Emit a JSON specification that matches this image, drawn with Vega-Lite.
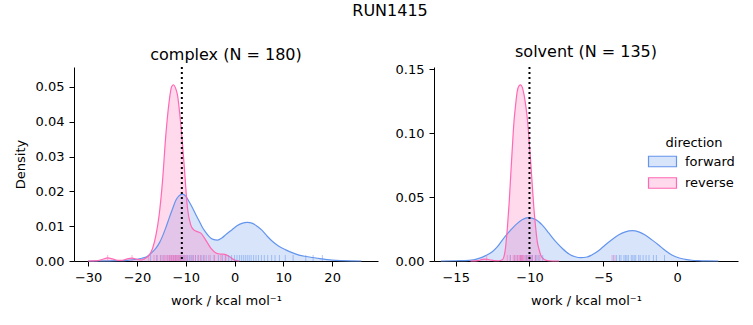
{
  "$schema": "https://vega.github.io/schema/vega-lite/v6.json",
  "autosize": {"type": "pad"},
  "padding": {"left": 14, "top": 3, "right": 5, "bottom": 5},
  "title": {"text": "RUN1415", "fontSize": 16, "fontWeight": "normal", "font": "DejaVu Sans", "anchor": "middle", "dx": 14, "offset": 25, "color": "black"},
  "spacing": 56,
  "bounds": "flush",
  "resolve": {"scale": {"color": "shared"}, "legend": {"color": "shared"}},
  "datasets": {
    "curves": [
      {"panel": "complex", "direction": "forward", "work": -30, "density": 0},
      {"panel": "complex", "direction": "forward", "work": -26, "density": 0.00005},
      {"panel": "complex", "direction": "forward", "work": -24, "density": 0.0001},
      {"panel": "complex", "direction": "forward", "work": -22, "density": 0.0002},
      {"panel": "complex", "direction": "forward", "work": -20, "density": 0.0005},
      {"panel": "complex", "direction": "forward", "work": -19, "density": 0.0008},
      {"panel": "complex", "direction": "forward", "work": -18, "density": 0.0012},
      {"panel": "complex", "direction": "forward", "work": -17.5, "density": 0.0017},
      {"panel": "complex", "direction": "forward", "work": -16.8, "density": 0.0026},
      {"panel": "complex", "direction": "forward", "work": -16.1, "density": 0.0037},
      {"panel": "complex", "direction": "forward", "work": -15.4, "density": 0.0052},
      {"panel": "complex", "direction": "forward", "work": -14.8, "density": 0.007},
      {"panel": "complex", "direction": "forward", "work": -14.1, "density": 0.0095},
      {"panel": "complex", "direction": "forward", "work": -13.4, "density": 0.0123},
      {"panel": "complex", "direction": "forward", "work": -12.7, "density": 0.015},
      {"panel": "complex", "direction": "forward", "work": -12.0, "density": 0.0175},
      {"panel": "complex", "direction": "forward", "work": -11.4, "density": 0.0187},
      {"panel": "complex", "direction": "forward", "work": -10.7, "density": 0.0192},
      {"panel": "complex", "direction": "forward", "work": -10.0, "density": 0.0186},
      {"panel": "complex", "direction": "forward", "work": -9.3, "density": 0.017},
      {"panel": "complex", "direction": "forward", "work": -8.6, "density": 0.0152},
      {"panel": "complex", "direction": "forward", "work": -7.9, "density": 0.0132},
      {"panel": "complex", "direction": "forward", "work": -7.25, "density": 0.0115},
      {"panel": "complex", "direction": "forward", "work": -6.6, "density": 0.0097},
      {"panel": "complex", "direction": "forward", "work": -5.9, "density": 0.0082},
      {"panel": "complex", "direction": "forward", "work": -5.2, "density": 0.007},
      {"panel": "complex", "direction": "forward", "work": -4.4, "density": 0.0062},
      {"panel": "complex", "direction": "forward", "work": -3.5, "density": 0.006},
      {"panel": "complex", "direction": "forward", "work": -2.6, "density": 0.0066},
      {"panel": "complex", "direction": "forward", "work": -1.7, "density": 0.0077},
      {"panel": "complex", "direction": "forward", "work": -0.5, "density": 0.009},
      {"panel": "complex", "direction": "forward", "work": 0.5, "density": 0.0101},
      {"panel": "complex", "direction": "forward", "work": 1.5, "density": 0.0108},
      {"panel": "complex", "direction": "forward", "work": 2.6, "density": 0.0111},
      {"panel": "complex", "direction": "forward", "work": 3.7, "density": 0.0108},
      {"panel": "complex", "direction": "forward", "work": 4.7, "density": 0.0099},
      {"panel": "complex", "direction": "forward", "work": 5.7, "density": 0.0087},
      {"panel": "complex", "direction": "forward", "work": 6.7, "density": 0.0071},
      {"panel": "complex", "direction": "forward", "work": 7.8, "density": 0.0056},
      {"panel": "complex", "direction": "forward", "work": 9.0, "density": 0.0043},
      {"panel": "complex", "direction": "forward", "work": 10.5, "density": 0.0032},
      {"panel": "complex", "direction": "forward", "work": 11.8, "density": 0.0024},
      {"panel": "complex", "direction": "forward", "work": 13.2, "density": 0.0017},
      {"panel": "complex", "direction": "forward", "work": 14.6, "density": 0.0013},
      {"panel": "complex", "direction": "forward", "work": 16.0, "density": 0.001},
      {"panel": "complex", "direction": "forward", "work": 17.5, "density": 0.0007},
      {"panel": "complex", "direction": "forward", "work": 19, "density": 0.0004},
      {"panel": "complex", "direction": "forward", "work": 20, "density": 0.00025},
      {"panel": "complex", "direction": "forward", "work": 22, "density": 0.0001},
      {"panel": "complex", "direction": "forward", "work": 24, "density": 0.00003},
      {"panel": "complex", "direction": "forward", "work": 26, "density": 0},
      {"panel": "complex", "direction": "reverse", "work": -30, "density": 0},
      {"panel": "complex", "direction": "reverse", "work": -28, "density": 0.0001},
      {"panel": "complex", "direction": "reverse", "work": -27, "density": 0.0005},
      {"panel": "complex", "direction": "reverse", "work": -26, "density": 0.0009},
      {"panel": "complex", "direction": "reverse", "work": -25, "density": 0.0006},
      {"panel": "complex", "direction": "reverse", "work": -24, "density": 0.0002},
      {"panel": "complex", "direction": "reverse", "work": -23, "density": 0.0002},
      {"panel": "complex", "direction": "reverse", "work": -22, "density": 0.0006},
      {"panel": "complex", "direction": "reverse", "work": -21, "density": 0.0008},
      {"panel": "complex", "direction": "reverse", "work": -20, "density": 0.0005},
      {"panel": "complex", "direction": "reverse", "work": -19, "density": 0.0003},
      {"panel": "complex", "direction": "reverse", "work": -18.5, "density": 0.0006},
      {"panel": "complex", "direction": "reverse", "work": -18, "density": 0.001},
      {"panel": "complex", "direction": "reverse", "work": -17.5, "density": 0.0017},
      {"panel": "complex", "direction": "reverse", "work": -16.8, "density": 0.0036},
      {"panel": "complex", "direction": "reverse", "work": -16.1, "density": 0.0075},
      {"panel": "complex", "direction": "reverse", "work": -15.45, "density": 0.0132},
      {"panel": "complex", "direction": "reverse", "work": -14.77, "density": 0.0228},
      {"panel": "complex", "direction": "reverse", "work": -14.08, "density": 0.0362},
      {"panel": "complex", "direction": "reverse", "work": -13.4, "density": 0.0458},
      {"panel": "complex", "direction": "reverse", "work": -12.9, "density": 0.05},
      {"panel": "complex", "direction": "reverse", "work": -12.5, "density": 0.0506},
      {"panel": "complex", "direction": "reverse", "work": -12.1, "density": 0.0497},
      {"panel": "complex", "direction": "reverse", "work": -11.7, "density": 0.0477},
      {"panel": "complex", "direction": "reverse", "work": -11.0, "density": 0.039},
      {"panel": "complex", "direction": "reverse", "work": -10.33, "density": 0.0276},
      {"panel": "complex", "direction": "reverse", "work": -9.65, "density": 0.0152},
      {"panel": "complex", "direction": "reverse", "work": -8.96, "density": 0.0103},
      {"panel": "complex", "direction": "reverse", "work": -8.4, "density": 0.009},
      {"panel": "complex", "direction": "reverse", "work": -7.93, "density": 0.0086},
      {"panel": "complex", "direction": "reverse", "work": -6.9, "density": 0.008},
      {"panel": "complex", "direction": "reverse", "work": -5.9, "density": 0.006},
      {"panel": "complex", "direction": "reverse", "work": -4.86, "density": 0.0037},
      {"panel": "complex", "direction": "reverse", "work": -3.8, "density": 0.0023},
      {"panel": "complex", "direction": "reverse", "work": -3.0, "density": 0.002},
      {"panel": "complex", "direction": "reverse", "work": -2.0, "density": 0.0019},
      {"panel": "complex", "direction": "reverse", "work": -1.0, "density": 0.0012},
      {"panel": "complex", "direction": "reverse", "work": 0, "density": 0.0003},
      {"panel": "complex", "direction": "reverse", "work": 1, "density": 0},
      {"panel": "solvent", "direction": "forward", "work": -16, "density": 0},
      {"panel": "solvent", "direction": "forward", "work": -15, "density": 0.0002},
      {"panel": "solvent", "direction": "forward", "work": -14.1, "density": 0.0005},
      {"panel": "solvent", "direction": "forward", "work": -13.42, "density": 0.0021},
      {"panel": "solvent", "direction": "forward", "work": -12.97, "density": 0.0042},
      {"panel": "solvent", "direction": "forward", "work": -12.52, "density": 0.0073},
      {"panel": "solvent", "direction": "forward", "work": -12.2, "density": 0.0108},
      {"panel": "solvent", "direction": "forward", "work": -11.84, "density": 0.0164},
      {"panel": "solvent", "direction": "forward", "work": -11.4, "density": 0.0225},
      {"panel": "solvent", "direction": "forward", "work": -10.94, "density": 0.0282},
      {"panel": "solvent", "direction": "forward", "work": -10.5, "density": 0.0322},
      {"panel": "solvent", "direction": "forward", "work": -10.08, "density": 0.0339},
      {"panel": "solvent", "direction": "forward", "work": -9.6, "density": 0.0325},
      {"panel": "solvent", "direction": "forward", "work": -9.13, "density": 0.028},
      {"panel": "solvent", "direction": "forward", "work": -8.67, "density": 0.0215},
      {"panel": "solvent", "direction": "forward", "work": -8.22, "density": 0.0151},
      {"panel": "solvent", "direction": "forward", "work": -7.77, "density": 0.0098},
      {"panel": "solvent", "direction": "forward", "work": -7.32, "density": 0.0055},
      {"panel": "solvent", "direction": "forward", "work": -6.9, "density": 0.0033},
      {"panel": "solvent", "direction": "forward", "work": -6.53, "density": 0.0026},
      {"panel": "solvent", "direction": "forward", "work": -6.1, "density": 0.0031},
      {"panel": "solvent", "direction": "forward", "work": -5.78, "density": 0.0047},
      {"panel": "solvent", "direction": "forward", "work": -5.3, "density": 0.0082},
      {"panel": "solvent", "direction": "forward", "work": -4.87, "density": 0.0125},
      {"panel": "solvent", "direction": "forward", "work": -4.4, "density": 0.0168},
      {"panel": "solvent", "direction": "forward", "work": -3.97, "density": 0.0203},
      {"panel": "solvent", "direction": "forward", "work": -3.5, "density": 0.0228},
      {"panel": "solvent", "direction": "forward", "work": -3.02, "density": 0.0237},
      {"panel": "solvent", "direction": "forward", "work": -2.6, "density": 0.0228},
      {"panel": "solvent", "direction": "forward", "work": -2.16, "density": 0.0203},
      {"panel": "solvent", "direction": "forward", "work": -1.7, "density": 0.0165},
      {"panel": "solvent", "direction": "forward", "work": -1.25, "density": 0.0125},
      {"panel": "solvent", "direction": "forward", "work": -0.8, "density": 0.0082},
      {"panel": "solvent", "direction": "forward", "work": -0.35, "density": 0.0047},
      {"panel": "solvent", "direction": "forward", "work": 0.1, "density": 0.0025},
      {"panel": "solvent", "direction": "forward", "work": 0.56, "density": 0.0013},
      {"panel": "solvent", "direction": "forward", "work": 1.0, "density": 0.0006},
      {"panel": "solvent", "direction": "forward", "work": 1.46, "density": 0.0003},
      {"panel": "solvent", "direction": "forward", "work": 2.0, "density": 0.0001},
      {"panel": "solvent", "direction": "forward", "work": 2.8, "density": 0},
      {"panel": "solvent", "direction": "reverse", "work": -14, "density": 0},
      {"panel": "solvent", "direction": "reverse", "work": -13.5, "density": 0.0003},
      {"panel": "solvent", "direction": "reverse", "work": -13.2, "density": 0.0012},
      {"panel": "solvent", "direction": "reverse", "work": -12.97, "density": 0.0015},
      {"panel": "solvent", "direction": "reverse", "work": -12.7, "density": 0.001},
      {"panel": "solvent", "direction": "reverse", "work": -12.4, "density": 0.0003},
      {"panel": "solvent", "direction": "reverse", "work": -12.1, "density": 0.0002},
      {"panel": "solvent", "direction": "reverse", "work": -11.84, "density": 0.001},
      {"panel": "solvent", "direction": "reverse", "work": -11.66, "density": 0.0073},
      {"panel": "solvent", "direction": "reverse", "work": -11.5, "density": 0.0256},
      {"panel": "solvent", "direction": "reverse", "work": -11.38, "density": 0.045},
      {"panel": "solvent", "direction": "reverse", "work": -11.27, "density": 0.0673},
      {"panel": "solvent", "direction": "reverse", "work": -11.16, "density": 0.089},
      {"panel": "solvent", "direction": "reverse", "work": -11.05, "density": 0.109},
      {"panel": "solvent", "direction": "reverse", "work": -10.94, "density": 0.122},
      {"panel": "solvent", "direction": "reverse", "work": -10.83, "density": 0.1325},
      {"panel": "solvent", "direction": "reverse", "work": -10.7, "density": 0.137},
      {"panel": "solvent", "direction": "reverse", "work": -10.6, "density": 0.1377},
      {"panel": "solvent", "direction": "reverse", "work": -10.48, "density": 0.1355},
      {"panel": "solvent", "direction": "reverse", "work": -10.37, "density": 0.13},
      {"panel": "solvent", "direction": "reverse", "work": -10.26, "density": 0.122},
      {"panel": "solvent", "direction": "reverse", "work": -10.15, "density": 0.1117},
      {"panel": "solvent", "direction": "reverse", "work": -10.03, "density": 0.095},
      {"panel": "solvent", "direction": "reverse", "work": -9.92, "density": 0.0777},
      {"panel": "solvent", "direction": "reverse", "work": -9.81, "density": 0.059},
      {"panel": "solvent", "direction": "reverse", "work": -9.7, "density": 0.041},
      {"panel": "solvent", "direction": "reverse", "work": -9.58, "density": 0.026},
      {"panel": "solvent", "direction": "reverse", "work": -9.47, "density": 0.015},
      {"panel": "solvent", "direction": "reverse", "work": -9.35, "density": 0.009},
      {"panel": "solvent", "direction": "reverse", "work": -9.24, "density": 0.0047},
      {"panel": "solvent", "direction": "reverse", "work": -9.0, "density": 0.0012},
      {"panel": "solvent", "direction": "reverse", "work": -8.7, "density": 0.0002},
      {"panel": "solvent", "direction": "reverse", "work": -8.0, "density": 0}
    ],
    "rugs": [
      {"panel": "complex", "direction": "forward", "work": -17.2},
      {"panel": "complex", "direction": "forward", "work": -16.0},
      {"panel": "complex", "direction": "forward", "work": -15.1},
      {"panel": "complex", "direction": "forward", "work": -14.5},
      {"panel": "complex", "direction": "forward", "work": -13.8},
      {"panel": "complex", "direction": "forward", "work": -13.3},
      {"panel": "complex", "direction": "forward", "work": -12.9},
      {"panel": "complex", "direction": "forward", "work": -12.5},
      {"panel": "complex", "direction": "forward", "work": -12.1},
      {"panel": "complex", "direction": "forward", "work": -11.8},
      {"panel": "complex", "direction": "forward", "work": -11.4},
      {"panel": "complex", "direction": "forward", "work": -11.1},
      {"panel": "complex", "direction": "forward", "work": -10.8},
      {"panel": "complex", "direction": "forward", "work": -10.5},
      {"panel": "complex", "direction": "forward", "work": -10.2},
      {"panel": "complex", "direction": "forward", "work": -9.9},
      {"panel": "complex", "direction": "forward", "work": -9.6},
      {"panel": "complex", "direction": "forward", "work": -9.2},
      {"panel": "complex", "direction": "forward", "work": -8.8},
      {"panel": "complex", "direction": "forward", "work": -8.4},
      {"panel": "complex", "direction": "forward", "work": -8.0},
      {"panel": "complex", "direction": "forward", "work": -7.5},
      {"panel": "complex", "direction": "forward", "work": -7.0},
      {"panel": "complex", "direction": "forward", "work": -6.4},
      {"panel": "complex", "direction": "forward", "work": -5.8},
      {"panel": "complex", "direction": "forward", "work": -5.0},
      {"panel": "complex", "direction": "forward", "work": -4.2},
      {"panel": "complex", "direction": "forward", "work": -3.3},
      {"panel": "complex", "direction": "forward", "work": -2.5},
      {"panel": "complex", "direction": "forward", "work": -1.8},
      {"panel": "complex", "direction": "forward", "work": -1.2},
      {"panel": "complex", "direction": "forward", "work": -0.6},
      {"panel": "complex", "direction": "forward", "work": 0.0},
      {"panel": "complex", "direction": "forward", "work": 0.5},
      {"panel": "complex", "direction": "forward", "work": 1.0},
      {"panel": "complex", "direction": "forward", "work": 1.4},
      {"panel": "complex", "direction": "forward", "work": 1.8},
      {"panel": "complex", "direction": "forward", "work": 2.2},
      {"panel": "complex", "direction": "forward", "work": 2.6},
      {"panel": "complex", "direction": "forward", "work": 3.0},
      {"panel": "complex", "direction": "forward", "work": 3.4},
      {"panel": "complex", "direction": "forward", "work": 3.9},
      {"panel": "complex", "direction": "forward", "work": 4.4},
      {"panel": "complex", "direction": "forward", "work": 4.9},
      {"panel": "complex", "direction": "forward", "work": 5.5},
      {"panel": "complex", "direction": "forward", "work": 6.1},
      {"panel": "complex", "direction": "forward", "work": 6.8},
      {"panel": "complex", "direction": "forward", "work": 7.6},
      {"panel": "complex", "direction": "forward", "work": 8.3},
      {"panel": "complex", "direction": "forward", "work": 9.2},
      {"panel": "complex", "direction": "forward", "work": 10.4},
      {"panel": "complex", "direction": "forward", "work": 12.0},
      {"panel": "complex", "direction": "forward", "work": 14.6},
      {"panel": "complex", "direction": "forward", "work": 16.1},
      {"panel": "complex", "direction": "forward", "work": 18.0},
      {"panel": "complex", "direction": "reverse", "work": -26.0},
      {"panel": "complex", "direction": "reverse", "work": -21.0},
      {"panel": "complex", "direction": "reverse", "work": -17.6},
      {"panel": "complex", "direction": "reverse", "work": -16.5},
      {"panel": "complex", "direction": "reverse", "work": -15.8},
      {"panel": "complex", "direction": "reverse", "work": -15.2},
      {"panel": "complex", "direction": "reverse", "work": -14.8},
      {"panel": "complex", "direction": "reverse", "work": -14.4},
      {"panel": "complex", "direction": "reverse", "work": -14.1},
      {"panel": "complex", "direction": "reverse", "work": -13.8},
      {"panel": "complex", "direction": "reverse", "work": -13.5},
      {"panel": "complex", "direction": "reverse", "work": -13.3},
      {"panel": "complex", "direction": "reverse", "work": -13.1},
      {"panel": "complex", "direction": "reverse", "work": -12.9},
      {"panel": "complex", "direction": "reverse", "work": -12.7},
      {"panel": "complex", "direction": "reverse", "work": -12.5},
      {"panel": "complex", "direction": "reverse", "work": -12.3},
      {"panel": "complex", "direction": "reverse", "work": -12.1},
      {"panel": "complex", "direction": "reverse", "work": -11.9},
      {"panel": "complex", "direction": "reverse", "work": -11.7},
      {"panel": "complex", "direction": "reverse", "work": -11.5},
      {"panel": "complex", "direction": "reverse", "work": -11.3},
      {"panel": "complex", "direction": "reverse", "work": -11.1},
      {"panel": "complex", "direction": "reverse", "work": -10.9},
      {"panel": "complex", "direction": "reverse", "work": -10.6},
      {"panel": "complex", "direction": "reverse", "work": -10.3},
      {"panel": "complex", "direction": "reverse", "work": -10.0},
      {"panel": "complex", "direction": "reverse", "work": -9.6},
      {"panel": "complex", "direction": "reverse", "work": -9.1},
      {"panel": "complex", "direction": "reverse", "work": -8.6},
      {"panel": "complex", "direction": "reverse", "work": -8.0},
      {"panel": "complex", "direction": "reverse", "work": -7.4},
      {"panel": "complex", "direction": "reverse", "work": -6.8},
      {"panel": "complex", "direction": "reverse", "work": -6.2},
      {"panel": "complex", "direction": "reverse", "work": -5.3},
      {"panel": "complex", "direction": "reverse", "work": -4.1},
      {"panel": "complex", "direction": "reverse", "work": -2.8},
      {"panel": "complex", "direction": "reverse", "work": -1.9},
      {"panel": "solvent", "direction": "forward", "work": -11.3},
      {"panel": "solvent", "direction": "forward", "work": -11.0},
      {"panel": "solvent", "direction": "forward", "work": -10.8},
      {"panel": "solvent", "direction": "forward", "work": -10.6},
      {"panel": "solvent", "direction": "forward", "work": -10.5},
      {"panel": "solvent", "direction": "forward", "work": -10.3},
      {"panel": "solvent", "direction": "forward", "work": -10.2},
      {"panel": "solvent", "direction": "forward", "work": -10.1},
      {"panel": "solvent", "direction": "forward", "work": -10.0},
      {"panel": "solvent", "direction": "forward", "work": -9.9},
      {"panel": "solvent", "direction": "forward", "work": -9.8},
      {"panel": "solvent", "direction": "forward", "work": -9.6},
      {"panel": "solvent", "direction": "forward", "work": -9.5},
      {"panel": "solvent", "direction": "forward", "work": -9.3},
      {"panel": "solvent", "direction": "forward", "work": -9.1},
      {"panel": "solvent", "direction": "forward", "work": -4.3},
      {"panel": "solvent", "direction": "forward", "work": -4.1},
      {"panel": "solvent", "direction": "forward", "work": -3.9},
      {"panel": "solvent", "direction": "forward", "work": -3.8},
      {"panel": "solvent", "direction": "forward", "work": -3.6},
      {"panel": "solvent", "direction": "forward", "work": -3.5},
      {"panel": "solvent", "direction": "forward", "work": -3.4},
      {"panel": "solvent", "direction": "forward", "work": -3.3},
      {"panel": "solvent", "direction": "forward", "work": -3.1},
      {"panel": "solvent", "direction": "forward", "work": -3.0},
      {"panel": "solvent", "direction": "forward", "work": -2.9},
      {"panel": "solvent", "direction": "forward", "work": -2.8},
      {"panel": "solvent", "direction": "forward", "work": -2.6},
      {"panel": "solvent", "direction": "forward", "work": -2.5},
      {"panel": "solvent", "direction": "forward", "work": -2.3},
      {"panel": "solvent", "direction": "forward", "work": -2.1},
      {"panel": "solvent", "direction": "forward", "work": -1.9},
      {"panel": "solvent", "direction": "forward", "work": -1.6},
      {"panel": "solvent", "direction": "forward", "work": -1.4},
      {"panel": "solvent", "direction": "forward", "work": -0.85},
      {"panel": "solvent", "direction": "reverse", "work": -12.9},
      {"panel": "solvent", "direction": "reverse", "work": -11.5},
      {"panel": "solvent", "direction": "reverse", "work": -11.3},
      {"panel": "solvent", "direction": "reverse", "work": -11.1},
      {"panel": "solvent", "direction": "reverse", "work": -11.0},
      {"panel": "solvent", "direction": "reverse", "work": -10.9},
      {"panel": "solvent", "direction": "reverse", "work": -10.8},
      {"panel": "solvent", "direction": "reverse", "work": -10.7},
      {"panel": "solvent", "direction": "reverse", "work": -10.65},
      {"panel": "solvent", "direction": "reverse", "work": -10.6},
      {"panel": "solvent", "direction": "reverse", "work": -10.55},
      {"panel": "solvent", "direction": "reverse", "work": -10.5},
      {"panel": "solvent", "direction": "reverse", "work": -10.45},
      {"panel": "solvent", "direction": "reverse", "work": -10.4},
      {"panel": "solvent", "direction": "reverse", "work": -10.3},
      {"panel": "solvent", "direction": "reverse", "work": -10.2},
      {"panel": "solvent", "direction": "reverse", "work": -10.1},
      {"panel": "solvent", "direction": "reverse", "work": -10.0},
      {"panel": "solvent", "direction": "reverse", "work": -9.9},
      {"panel": "solvent", "direction": "reverse", "work": -9.8},
      {"panel": "solvent", "direction": "reverse", "work": -9.6},
      {"panel": "solvent", "direction": "reverse", "work": -9.4},
      {"panel": "solvent", "direction": "reverse", "work": -4.4},
      {"panel": "solvent", "direction": "reverse", "work": -4.2}
    ],
    "refs": [
      {"panel": "complex", "work": -10.8},
      {"panel": "solvent", "work": -10.0}
    ]
  },
  "hconcat": [
    {
      "width": 304,
      "height": 194,
      "title": {"text": "complex (N = 180)", "offset": 3},
      "layer": [
        {
          "data": {"name": "curves"},
          "transform": [{"filter": "datum.panel === 'complex'"}],
          "mark": {"type": "area", "fillOpacity": 0.25, "interpolate": "monotone"},
          "encoding": {
            "x": {"field": "work", "type": "quantitative", "scale": {"domain": [-32.9, 29.4], "nice": false, "zero": false}, "axis": {"values": [-30, -20, -10, 0, 10, 20], "format": "d", "title": "work / kcal mol⁻¹", "labelOverlap": false}},
            "y": {"field": "density", "type": "quantitative", "stack": null, "scale": {"domain": [0, 0.0557], "nice": false}, "axis": {"values": [0, 0.01, 0.02, 0.03, 0.04, 0.05], "tickCount": 6, "format": ".2f", "title": "Density", "labelOverlap": false}},
            "color": {"field": "direction", "type": "nominal", "scale": {"domain": ["forward", "reverse"], "range": ["#6495ED", "#FF69B4"]},
              "legend": {"orient": "none", "legendX": 579, "legendY": 70, "title": "direction", "titleAnchor": "middle", "symbolType": "M-1.6,-0.6H1.6V0.6H-1.6Z", "symbolSize": 306, "labelOffset": 13, "rowPadding": 3.5, "titlePadding": 2,
                "encode": {"symbols": {"update": {"fill": {"scale": "color", "field": "value"}, "fillOpacity": {"value": 0.25}, "stroke": {"scale": "color", "field": "value"}, "strokeWidth": {"value": 1.2}, "opacity": {"value": 1}}}}}}
          }
        },
        {
          "data": {"name": "curves"},
          "transform": [{"filter": "datum.panel === 'complex'"}],
          "mark": {"type": "line", "strokeWidth": 1.2, "interpolate": "monotone"},
          "encoding": {
            "x": {"field": "work", "type": "quantitative", "axis": {"values": [-30, -20, -10, 0, 10, 20], "format": "d", "title": "work / kcal mol⁻¹", "labelOverlap": false}},
            "y": {"field": "density", "type": "quantitative", "stack": null, "axis": {"values": [0, 0.01, 0.02, 0.03, 0.04, 0.05], "tickCount": 6, "format": ".2f", "title": "Density", "labelOverlap": false}},
            "color": {"field": "direction", "type": "nominal"}
          }
        },
        {
          "data": {"name": "rugs"},
          "transform": [{"filter": "datum.panel === 'complex'"}],
          "mark": {"type": "tick", "orient": "vertical", "size": 6, "thickness": 1, "opacity": 0.5},
          "encoding": {
            "x": {"field": "work", "type": "quantitative", "axis": {"values": [-30, -20, -10, 0, 10, 20], "format": "d", "title": "work / kcal mol⁻¹", "labelOverlap": false}},
            "y": {"datum": 0.00086, "type": "quantitative", "axis": {"values": [0, 0.01, 0.02, 0.03, 0.04, 0.05], "tickCount": 6, "format": ".2f", "title": "Density", "labelOverlap": false}},
            "color": {"field": "direction", "type": "nominal"}
          }
        },
        {
          "data": {"name": "refs"},
          "transform": [{"filter": "datum.panel === 'complex'"}],
          "mark": {"type": "rule", "color": "black", "strokeWidth": 2, "strokeDash": [2, 3]},
          "encoding": {
            "x": {"field": "work", "type": "quantitative", "axis": {"values": [-30, -20, -10, 0, 10, 20], "format": "d", "title": "work / kcal mol⁻¹", "labelOverlap": false}}
          }
        }
      ]
    },
    {
      "width": 304,
      "height": 194,
      "title": {"text": "solvent (N = 135)", "offset": 3},
      "layer": [
        {
          "data": {"name": "curves"},
          "transform": [{"filter": "datum.panel === 'solvent'"}],
          "mark": {"type": "area", "fillOpacity": 0.25, "interpolate": "monotone"},
          "encoding": {
            "x": {"field": "work", "type": "quantitative", "scale": {"domain": [-16.47, 4.13], "nice": false, "zero": false}, "axis": {"values": [-15, -10, -5, 0], "format": "d", "title": "work / kcal mol⁻¹", "labelOverlap": false}},
            "y": {"field": "density", "type": "quantitative", "stack": null, "scale": {"domain": [0, 0.1516], "nice": false}, "axis": {"values": [0, 0.05, 0.1, 0.15], "format": ".2f", "title": null, "labelOverlap": false}},
            "color": {"field": "direction", "type": "nominal"}
          }
        },
        {
          "data": {"name": "curves"},
          "transform": [{"filter": "datum.panel === 'solvent'"}],
          "mark": {"type": "line", "strokeWidth": 1.2, "interpolate": "monotone"},
          "encoding": {
            "x": {"field": "work", "type": "quantitative"},
            "y": {"field": "density", "type": "quantitative", "stack": null},
            "color": {"field": "direction", "type": "nominal"}
          }
        },
        {
          "data": {"name": "rugs"},
          "transform": [{"filter": "datum.panel === 'solvent'"}],
          "mark": {"type": "tick", "orient": "vertical", "size": 6, "thickness": 1, "opacity": 0.5},
          "encoding": {
            "x": {"field": "work", "type": "quantitative"},
            "y": {"datum": 0.00235, "type": "quantitative"},
            "color": {"field": "direction", "type": "nominal"}
          }
        },
        {
          "data": {"name": "refs"},
          "transform": [{"filter": "datum.panel === 'solvent'"}],
          "mark": {"type": "rule", "color": "black", "strokeWidth": 2, "strokeDash": [2, 3]},
          "encoding": {
            "x": {"field": "work", "type": "quantitative"}
          }
        }
      ]
    }
  ],
  "config": {
    "font": "DejaVu Sans",
    "view": {"stroke": null},
    "axis": {"grid": false, "domainColor": "black", "tickColor": "black", "labelColor": "black", "titleColor": "black", "labelFont": "DejaVu Sans", "titleFont": "DejaVu Sans", "labelFontSize": 13, "titleFontSize": 13, "titleFontWeight": "normal", "tickSize": 5, "domainWidth": 1, "tickWidth": 1, "labelPadding": 5, "labelFlush": false},
    "axisX": {"titlePadding": 10},
    "axisY": {"titlePadding": 8},
    "title": {"font": "DejaVu Sans", "fontSize": 16, "fontWeight": "normal", "color": "black", "offset": 6},
    "legend": {"titleFont": "DejaVu Sans", "labelFont": "DejaVu Sans", "titleFontSize": 13, "labelFontSize": 13, "titleFontWeight": "normal", "titleColor": "black", "labelColor": "black"}
  }
}
